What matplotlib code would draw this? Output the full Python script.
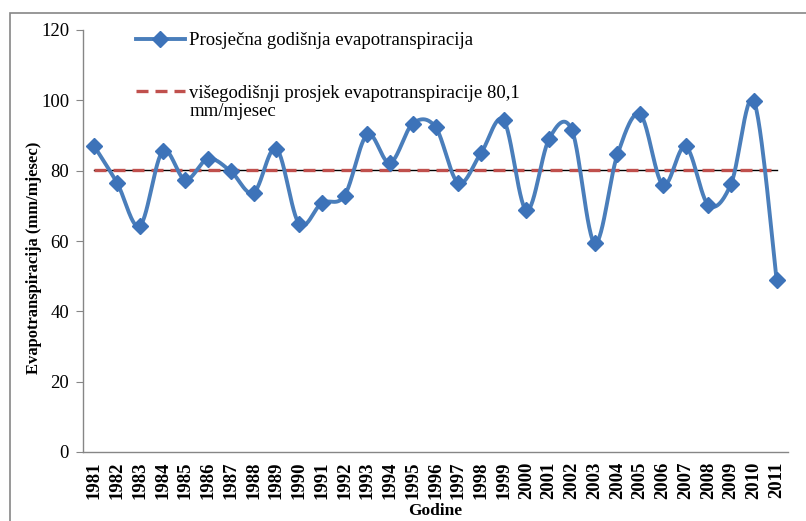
import numpy as np
import matplotlib.pyplot as plt
from matplotlib.patches import Rectangle

years = [str(y) for y in range(1981, 2012)]
evap = [86.9, 76.5, 64.3, 85.5, 77.4, 83.4, 79.8, 73.7, 86.3, 64.9,
        70.8, 72.9, 90.3, 82.2, 93.4, 92.4, 76.5, 85.0, 94.3, 68.7,
        89.1, 91.5, 59.4, 84.6, 96.0, 75.9, 86.9, 70.2, 76.3, 99.8,
        49.0]
mean_evap = 80.1

plt.rcParams['font.family'] = ['Liberation Serif', 'DejaVu Serif']

blue = '#4a7ebb'
mblue = '#3d73b9'
red = '#c0504d'
W, H = 806, 521

# Excel-like smoothed line (Catmull-Rom as cubic Bezier)
x = np.arange(len(evap), dtype=float)
y = np.array(evap)
px = np.concatenate([[x[0]], x, [x[-1]]])
py = np.concatenate([[y[0]], y, [y[-1]]])
t = np.linspace(0, 1, 30)[:, None]
sx, sy = [], []
for i in range(len(x) - 1):
    p0 = np.array([px[i + 1], py[i + 1]])
    p3 = np.array([px[i + 2], py[i + 2]])
    c1 = p0 + (p3 - np.array([px[i], py[i]])) / 6
    c2 = p3 - (np.array([px[i + 3], py[i + 3]]) - p0) / 6
    b = ((1 - t) ** 3) * p0 + 3 * ((1 - t) ** 2) * t * c1 + 3 * (1 - t) * t ** 2 * c2 + t ** 3 * p3
    sx.extend(b[:, 0])
    sy.extend(b[:, 1])

fig = plt.figure(figsize=(W / 100, H / 100), dpi=100)
ax = fig.add_axes([83 / W, 1 - 452 / H, (788 - 83) / W, (452 - 30) / H])

fig.patches.append(Rectangle((10 / W, -0.1), 2, 1 - 13 / H + 0.1, transform=fig.transFigure,
                             fill=False, edgecolor='#868686', linewidth=1.2))

ax.plot(sx, sy, color=blue, linewidth=2.8, solid_capstyle='round', zorder=3)
ax.plot(x, y, linestyle='none', marker='D', markersize=8, color=mblue, zorder=4)

ax.plot([x[0], x[-1]], [mean_evap, mean_evap], color='black', linewidth=1.0, zorder=2)
ax.plot([x[0], x[-1]], [mean_evap, mean_evap], color=red, linewidth=2.4, dashes=(3.6, 2.1), zorder=2.5)

ax.set_xlim(-0.5, len(evap) - 0.5)
ax.set_ylim(0, 120)
ax.set_yticks(range(0, 121, 20))
ax.set_xticks(x)
ax.set_xticklabels(years, rotation=90, fontsize=13.5, fontweight='bold')
ax.tick_params(axis='x', length=0, pad=7)
ax.tick_params(axis='y', labelsize=13.5, length=5, color='#868686', pad=5)

for s in ['top', 'right']:
    ax.spines[s].set_visible(False)
for s in ['left', 'bottom']:
    ax.spines[s].set_color('#868686')
    ax.spines[s].set_linewidth(1.0)

ax.set_ylabel('Evapotranspiracija (mm/mjesec)', fontsize=12, fontweight='bold', va='center')
ax.yaxis.set_label_coords((34 - 83) / 705, (452 - 258) / 422)
ax.set_xlabel('Godine', fontsize=12.5, fontweight='bold', va='center')
ax.xaxis.set_label_coords((435 - 83) / 705, (452 - 511) / 422)

h1 = plt.Line2D([], [], color=blue, linewidth=2.8, marker='D', markersize=8,
                markerfacecolor=mblue, markeredgecolor=mblue)
h2 = plt.Line2D([], [], color=red, linewidth=2.4, dashes=(3.6, 2.1))
fig.legend([h1, h2], ['Prosječna godišnja evapotranspiracija',
                      'višegodišnji prosjek evapotranspiracije 80,1'],
           loc='upper left', bbox_to_anchor=(136 / W, 1 - 32 / H), frameon=False, fontsize=13.5,
           handlelength=2.6, handletextpad=0.25, labelspacing=1.9, borderpad=0, borderaxespad=0)
fig.text(190 / W, 1 - 112 / H, 'mm/mjesec', fontsize=13.5, va='center', ha='left')

fig.savefig('out.png', dpi=100)
